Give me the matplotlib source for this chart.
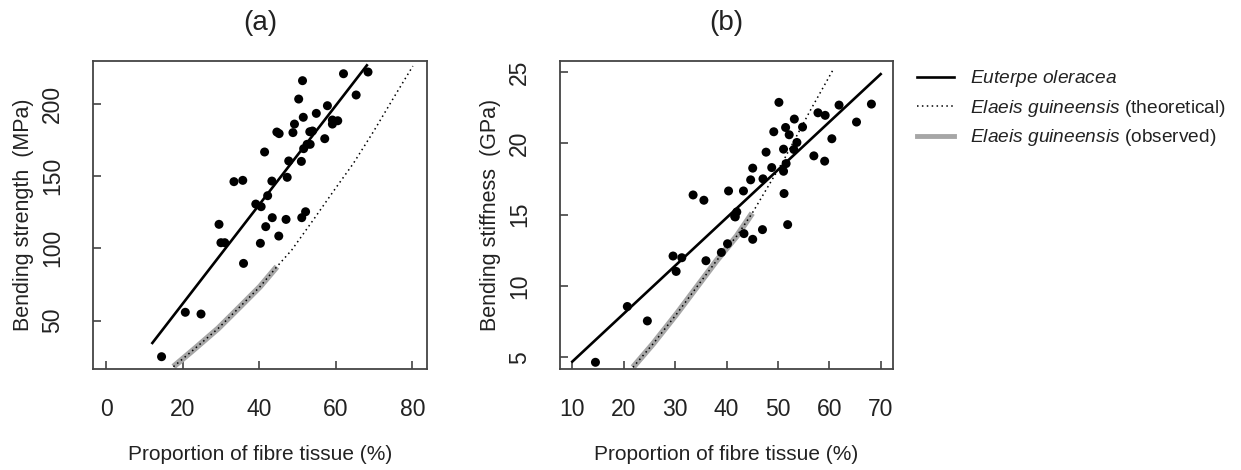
import matplotlib
matplotlib.use("Agg")
import matplotlib.pyplot as plt
from matplotlib.lines import Line2D

plt.rcParams['font.family'] = ['Liberation Sans', 'DejaVu Sans']
plt.rcParams['mathtext.fontset'] = 'custom'
plt.rcParams['mathtext.rm'] = 'Liberation Sans'
plt.rcParams['mathtext.it'] = 'Liberation Sans:italic'

# ---------------- data: panel (a) bending strength ----------------
a_fibre = [14.5, 20.7, 24.8, 29.5, 30.0, 31.0, 33.4, 35.7, 35.9, 39.1, 40.5, 40.3,
           41.4, 41.7, 42.2, 43.3, 43.4, 44.6, 45.2, 45.1, 47.0, 47.3, 47.7, 48.8,
           49.2, 50.3, 51.3, 51.0, 51.1, 51.5, 51.6, 52.1, 52.5, 53.3, 53.2, 53.9,
           54.9, 57.1, 57.8, 59.1, 59.1, 60.5, 62.0, 65.3, 68.4]
a_strength = [25.1, 55.8, 54.6, 116.6, 103.9, 103.9, 146.1, 147.0, 89.6, 130.6, 128.8, 103.5,
              166.6, 115.0, 136.4, 146.5, 121.2, 180.4, 179.3, 108.5, 120.0, 149.1, 160.4, 180.0,
              185.9, 203.2, 215.9, 160.1, 121.2, 190.6, 168.9, 125.3, 171.9, 171.9, 180.6, 181.1,
              193.3, 175.8, 198.6, 188.7, 185.9, 188.2, 220.7, 206.0, 221.9]
a_fit_x = [12.1, 68.1]
a_fit_y = [34.6, 226.5]
a_theo_x = [17.6, 22.8, 29.3, 35.0, 40.2, 44.6, 48.5, 54.1, 59.3, 64.6, 69.8, 75.0, 80.1]
a_theo_y = [18.2, 29.8, 44.7, 59.7, 73.5, 87.3, 98.9, 119.6, 139.2, 158.8, 180.6, 203.7, 226.0]
a_obs_x = [17.6, 22.8, 29.3, 35.0, 40.2, 44.6]
a_obs_y = [18.2, 29.8, 44.7, 59.7, 73.5, 87.3]

# ---------------- data: panel (b) bending stiffness ----------------
b_fibre = [14.5, 20.7, 24.6, 29.6, 30.2, 31.3, 33.5, 35.6, 36.0, 39.0, 40.2, 40.4,
           41.6, 42.0, 41.7, 43.3, 43.4, 44.7, 45.1, 45.1, 47.1, 47.0, 47.7, 48.8,
           49.2, 50.2, 51.1, 51.1, 51.2, 51.5, 51.6, 51.9, 52.2, 53.1, 53.2, 53.7,
           54.8, 57.0, 57.8, 59.1, 59.2, 60.5, 61.9, 65.3, 68.2]
b_stiffness = [4.65, 8.56, 7.55, 12.10, 11.02, 11.98, 16.38, 16.01, 11.77, 12.35, 12.96, 16.66,
               14.88, 15.19, 14.84, 16.66, 13.67, 17.44, 18.26, 13.27, 17.51, 13.95, 19.38, 18.30,
               20.81, 22.87, 19.59, 18.04, 16.48, 21.11, 18.58, 14.30, 20.60, 19.57, 21.70, 20.06,
               21.14, 19.12, 22.14, 18.75, 21.96, 20.32, 22.68, 21.49, 22.75]
b_fit_x = [10.0, 70.0]
b_fit_y = [4.7, 24.85]
b_theo_x = [21.8, 25.7, 30.3, 34.2, 38.1, 42.0, 45.0, 51.1, 56.3, 60.9]
b_theo_y = [4.3, 5.94, 8.04, 9.92, 11.79, 13.5, 15.1, 18.8, 22.3, 25.26]
b_obs_x = [21.8, 25.7, 30.3, 34.2, 38.1, 42.0, 45.0]
b_obs_y = [4.3, 5.94, 8.04, 9.92, 11.79, 13.5, 15.1]

a_xticks = [0, 20, 40, 60, 80]
a_yticks = [50, 100, 150, 200]
b_xticks = [10, 20, 30, 40, 50, 60, 70]
b_yticks = [5, 10, 15, 20, 25]

labels = [r'$\mathit{Euterpe\ oleracea}$',
          r'$\mathit{Elaeis\ guineensis}$ (theoretical)',
          r'$\mathit{Elaeis\ guineensis}$ (observed)']

W, H = 1241, 470
fig = plt.figure(figsize=(W / 100, H / 100), dpi=100)

TXT = '#222222'
GREY = '#a6a6a6'


def panel(rect, title, fx, fy, lx, ly, tx, ty, ox, oy, xlim, ylim, xt, yt, ylabel):
    ax = fig.add_axes(rect)
    ax.plot(ox, oy, color=GREY, lw=4.3, solid_capstyle='butt', zorder=2)
    ax.plot(tx, ty, color='black', lw=1.1, ls=(0, (1, 2.2)), zorder=3)
    ax.plot(lx, ly, color='black', lw=1.9, zorder=3)
    ax.scatter(fx, fy, s=42, color='black', edgecolors='none', zorder=4)
    ax.set_xlim(*xlim)
    ax.set_ylim(*ylim)
    ax.set_xticks(xt)
    ax.set_yticks(yt)
    ax.tick_params(direction='in', length=6, width=1.1, color='#333333',
                   labelsize=16.5, labelcolor=TXT, pad=21)
    ax.tick_params(axis='y', labelrotation=90)
    for lab in ax.get_yticklabels():
        lab.set_va('center')
    for s in ax.spines.values():
        s.set_color('#444444')
        s.set_linewidth(1.3)
    ax.set_title(title, fontsize=20, color=TXT, pad=22)
    ax.set_xlabel('Proportion of fibre tissue (%)', fontsize=15, color=TXT, labelpad=17)
    ax.set_ylabel(ylabel, fontsize=15.5, color=TXT, labelpad=5)
    return ax


ax1 = panel([93 / W, 1 - 369 / H, 334 / W, 308 / H], '(a)',
            a_fibre, a_strength, a_fit_x, a_fit_y, a_theo_x, a_theo_y, a_obs_x, a_obs_y,
            (-3.4, 83.8), (16.6, 229.5), a_xticks, a_yticks, 'Bending strength  (MPa)')
ax2 = panel([560 / W, 1 - 369 / H, 333 / W, 308 / H], '(b)',
            b_fibre, b_stiffness, b_fit_x, b_fit_y, b_theo_x, b_theo_y, b_obs_x, b_obs_y,
            (7.6, 72.4), (4.18, 25.77), b_xticks, b_yticks, 'Bending stiffness  (GPa)')

handles = [Line2D([], [], color='black', lw=1.9),
           Line2D([], [], color='black', lw=1.1, ls=(0, (1, 2.2))),
           Line2D([], [], color=GREY, lw=3.5)]
leg = fig.legend(handles, labels, loc='upper left', bbox_to_anchor=(900 / W, 1 - 51 / H),
                 frameon=False, fontsize=13.8, handlelength=1.9, handletextpad=0.85,
                 labelspacing=0.45)
for t in leg.get_texts():
    t.set_color(TXT)

fig.savefig('out.png', dpi=100, facecolor='white')
